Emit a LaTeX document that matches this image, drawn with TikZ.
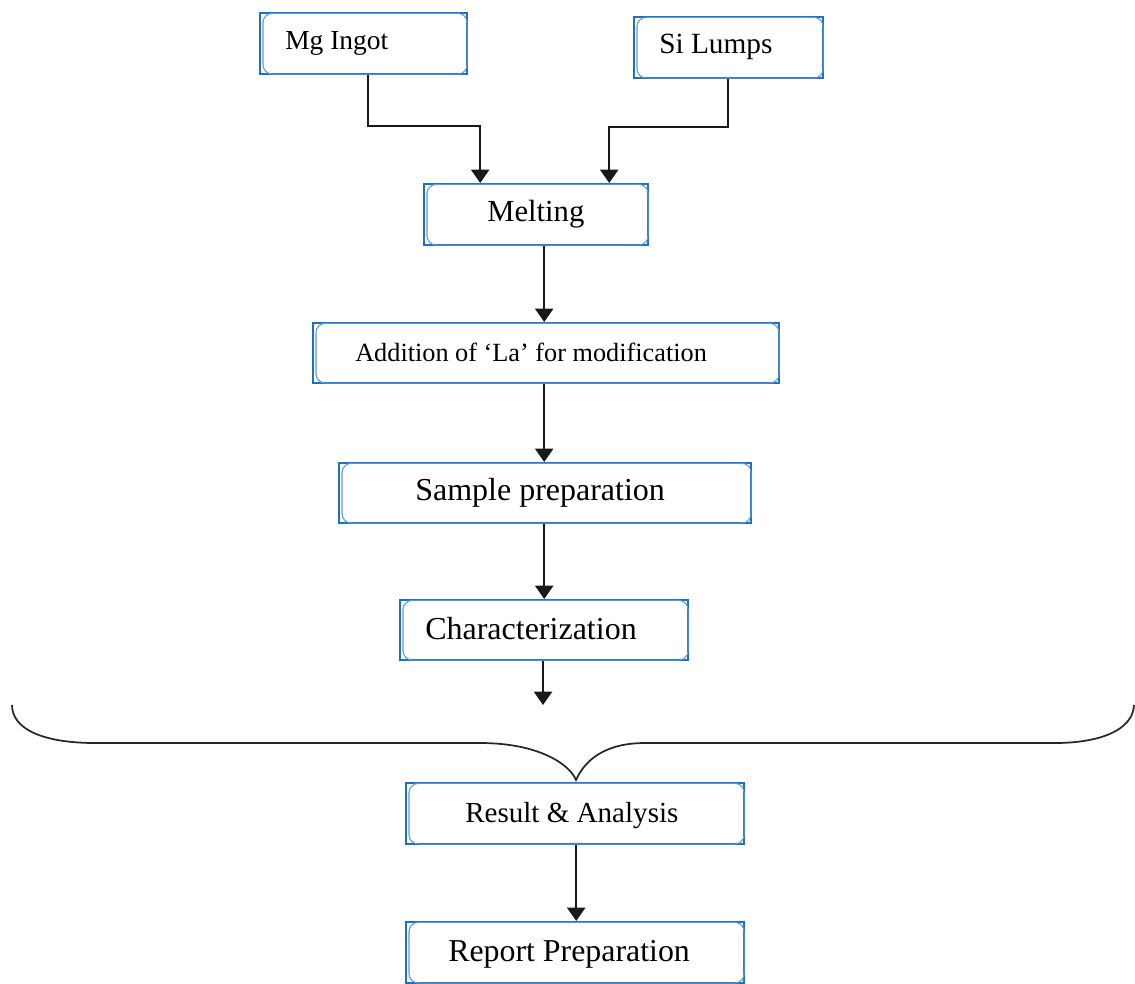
\documentclass[tikz,border=0pt]{standalone}
\usepackage{fontspec}
\setmainfont{Liberation Serif}
\usetikzlibrary{arrows.meta,calc}
\definecolor{boxblue}{RGB}{30,112,192}
\definecolor{innerblue}{RGB}{91,155,213}
\tikzset{
  flowbox/.style={draw=boxblue, line width=1.8pt, rectangle, inner sep=0pt, anchor=north west},
  innerline/.style={draw=innerblue, line width=0.8pt, rounded corners=7pt},
  lbl/.style={anchor=west, inner sep=0pt, text=black},
  conn/.style={draw=black!90, line width=1.7pt},
  arr/.style={conn, -{Triangle[width=13.5pt,length=10pt]}},
  bracepath/.style={draw=black!85, line width=1.3pt},
}
\newcommand\mybox[5]{%
  \node[flowbox, minimum width={(#4-#2)*0.75pt}, minimum height={(#5-#3)*0.75pt}] (#1) at (#2,#3) {};
  \draw[innerline] ([xshift=3pt,yshift=-1pt]#1.north west) rectangle ([xshift=-1pt,yshift=1pt]#1.south east);
}
\begin{document}
\begin{tikzpicture}[x=0.75pt,y=-0.75pt]
\useasboundingbox (0,0) rectangle (1135,983);
% boxes
\mybox{mg}{259}{12}{466}{73}
\mybox{si}{633}{16}{822}{77}
\mybox{melt}{423}{183}{647}{244}
\mybox{add}{312}{322}{778}{382}
\mybox{samp}{338}{462}{750}{522}
\mybox{char}{399}{599}{687}{659}
\mybox{res}{405}{782}{743}{843}
\mybox{rep}{405}{921}{743}{982}
% labels
\node[lbl, font=\fontsize{20.6}{24}\selectfont] (mgt) at (285,43) {Mg Ingot};
\node[lbl, font=\fontsize{22}{26}\selectfont] (sit) at (659,47) {Si Lumps};
\node[lbl, font=\fontsize{23}{27}\selectfont] (meltt) at (487,214.5) {Melting};
\node[lbl, font=\fontsize{19.7}{24}\selectfont] (addt) at (355,352) {Addition of ‘La’ for modification};
\node[lbl, font=\fontsize{24}{28}\selectfont] (sampt) at (415,493) {Sample preparation};
\node[lbl, font=\fontsize{24}{28}\selectfont] (chart) at (425,629) {Characterization};
\node[lbl, font=\fontsize{21.8}{26}\selectfont] (rest) at (465,816) {Result \& Analysis};
\node[lbl, font=\fontsize{23.9}{28}\selectfont] (rept) at (448,954) {Report Preparation};
% connectors
\draw[arr] ($(mg.south)+(4.5,0)$) |- ($(melt.north)+(-56,-57)$) -- ($(melt.north)+(-56,0)$);
\draw[arr] ($(si.south)+(-0.5,0)$) |- ($(melt.north)+(73,-56)$) -- ($(melt.north)+(73,0)$);
\coordinate (m1) at ($(melt.south)+(8,0)$);
\draw[arr] (m1) -- (m1 |- add.north);
\coordinate (m2) at ($(add.south)+(-2,0)$);
\draw[arr] (m2) -- (m2 |- samp.north);
\coordinate (m3) at ($(samp.south)+(-1,0)$);
\draw[arr] (m3) -- (m3 |- char.north);
\coordinate (ctip) at (543,705);
\draw[arr] (char.south -| ctip) -- (ctip);
\coordinate (m4) at ($(res.south)+(1,0)$);
\draw[arr] (m4) -- (m4 |- rep.north);
% brace
\coordinate (bl) at (12,705);
\coordinate (btip) at (576,780);
\coordinate (br) at (1134,705);
\draw[bracepath] (bl) .. controls (12,730) and (45,743) .. (95,743) -- (480,743)
  .. controls (540,743) and (570,765) .. (btip)
  .. controls (585,760) and (605,743) .. (645,743) -- (1055,743)
  .. controls (1100,743) and (1133,730) .. (br);
\end{tikzpicture}
\end{document}
